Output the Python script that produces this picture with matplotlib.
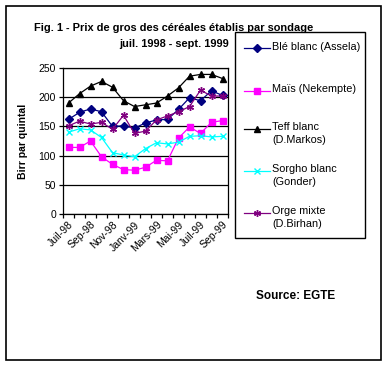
import matplotlib
matplotlib.use('Agg')
import matplotlib.pyplot as plt
from matplotlib.lines import Line2D
from matplotlib.patches import Rectangle

plt.rcParams['font.family'] = ['Liberation Sans', 'DejaVu Sans']

W, H = 385, 366

mois = ['Juil-98', 'Août-98', 'Sep-98', 'Oct-98', 'Nov-98', 'Déc-98', 'Janv-99', 'Févr-99',
        'Mars-99', 'Avr-99', 'Mai-99', 'Juin-99', 'Juil-99', 'Août-99', 'Sep-99']

ble = [162, 174, 180, 175, 150, 151, 147, 156, 161, 162, 179, 199, 194, 211, 203]
mais = [114, 114, 125, 98, 85, 76, 75, 80, 92, 91, 130, 149, 138, 157, 160]
teff = [190, 206, 219, 227, 217, 194, 184, 187, 190, 202, 216, 236, 239, 239, 232]
sorgho = [140, 146, 144, 131, 105, 101, 98, 112, 122, 120, 123, 133, 134, 132, 133]
orge = [151, 159, 154, 157, 145, 169, 138, 142, 161, 168, 175, 184, 212, 202, 202]

series = [ble, mais, teff, sorgho, orge]
noms = ['Blé blanc (Assela)', 'Maïs (Nekempte)', 'Teff blanc\n(D.Markos)',
        'Sorgho blanc\n(Gonder)', 'Orge mixte\n(D.Birhan)']
couleurs = ['#000080', '#FF00FF', '#000000', '#00FFFF', '#800080']
marqueurs = ['D', 's', '^', 'x', (6, 2, 0)]
tailles = [3.8, 4.2, 4.2, 4, 5]


def fx(x):
    return x / W


def fy(y):
    return 1 - y / H


fig = plt.figure(figsize=(W / 100, H / 100), dpi=100)
ax = fig.add_axes([fx(63), fy(214), (228 - 63) / W, (214 - 68) / H])

x = list(range(len(mois)))
for vals, c, m, s in zip(series, couleurs, marqueurs, tailles):
    ax.plot(x, vals, color=c, marker=m, markersize=s, linewidth=0.9,
            markerfacecolor=c, markeredgecolor=c, markeredgewidth=1)

ax.set_xlim(-0.5, len(mois) - 0.5)
ax.set_ylim(0, 250)
ax.set_yticks(range(0, 251, 50))
ax.yaxis.grid(True, color='black', linewidth=0.9)
ax.set_axisbelow(True)
for sp in ax.spines.values():
    sp.set_color('black')
    sp.set_linewidth(0.9)

ax.set_xticks(x[::2])
ax.set_xticklabels(mois[::2], rotation=45, ha='right', rotation_mode='anchor', fontsize=7.5)
ax.tick_params(axis='x', length=0, pad=4)
ax.set_xticks([i - 0.5 for i in range(len(mois) + 1)], minor=True)
ax.tick_params(axis='x', which='minor', length=3, direction='out', width=0.9)
ax.tick_params(axis='y', length=3, direction='out', width=0.9, labelsize=7.5, pad=2)

ax.set_ylabel('Birr par quintal', fontsize=7.5, fontweight='bold', labelpad=8)

fig.text(fx(174), fy(28), 'Fig. 1 - Prix de gros des céréales établis par sondage',
         ha='center', va='center', fontsize=7.9, fontweight='bold')
fig.text(fx(174), fy(44), 'juil. 1998 - sept. 1999',
         ha='center', va='center', fontsize=7.9, fontweight='bold')

# cadre extérieur
fig.add_artist(Rectangle((fx(5.5), fy(360)), (381 - 5.5) / W, (360 - 5.5) / H,
                         transform=fig.transFigure, fill=False, edgecolor='black', linewidth=1.2))

# légende
fig.add_artist(Rectangle((fx(235), fy(238)), (365 - 235) / W, (238 - 32) / H,
                         transform=fig.transFigure, facecolor='white', edgecolor='black',
                         linewidth=1, zorder=5))
ys = [48, 91, 129, 171, 213]
for yy, nom, c, m, s in zip(ys, noms, couleurs, marqueurs, tailles):
    fig.add_artist(Line2D([fx(244), fx(270)], [fy(yy), fy(yy)], transform=fig.transFigure,
                          color=c, linewidth=0.9, zorder=6))
    fig.add_artist(Line2D([fx(257)], [fy(yy)], transform=fig.transFigure, color=c,
                          marker=m, markersize=s, markerfacecolor=c, markeredgecolor=c, zorder=6))
    fig.text(fx(272), fy(yy - 6.5), nom, ha='left', va='top', fontsize=7.8,
             linespacing=1.35, zorder=7)

fig.text(fx(296), fy(296), 'Source: EGTE', ha='center', va='center',
         fontsize=8.5, fontweight='bold')

fig.savefig('out.png', dpi=100)
